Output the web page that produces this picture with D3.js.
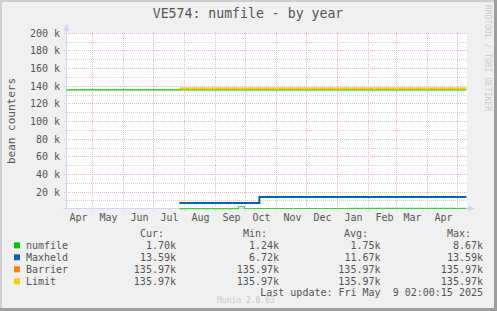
<!DOCTYPE html>
<html>
<head>
<meta charset="utf-8">
<script src="https://cdn.jsdelivr.net/npm/d3@7"></script>
<style>
  html, body { margin: 0; padding: 0; background: #f0f0f0; }
  svg { display: block; }
  text { font-family: "DejaVu Sans Mono", monospace; white-space: pre; }
</style>
</head>
<body>
<script>
// ---------- data ----------
const title = "VE574: numfile - by year";
const yLabel = "bean counters";
const startTime = Date.UTC(2024, 3, 4, 2, 0);
const endTime = Date.UTC(2025, 4, 9, 2, 0);

const yTicks = [20000, 40000, 60000, 80000, 100000, 120000, 140000, 160000, 180000, 200000];
const yTickLabels = ["20 k", "40 k", "60 k", "80 k", "100 k", "120 k", "140 k", "160 k", "180 k", "200 k"];
const yMinorTicks = [10000, 30000, 50000, 70000, 90000, 110000, 130000, 150000, 170000, 190000];
const monthLabels = ["Apr", "May", "Jun", "Jul", "Aug", "Sep", "Oct", "Nov", "Dec", "Jan", "Feb", "Mar", "Apr"];

const seriesNames = ["numfile", "Maxheld", "Barrier", "Limit"];
const seriesColors = ["#00cc00", "#0066b3", "#ff8000", "#ffcc00"];

// step series: dates (ISO, UTC) and values
const numfileDates = ["2024-07-26", "2024-09-23", "2024-09-29", "2025-01-10", "2025-05-09T02:00"];
const numfileValues = [1300, 3600, 1500, 1700, 1700];
const maxheldDates = ["2024-07-26", "2024-10-14", "2025-05-09T02:00"];
const maxheldValues = [6720, 13590, 13590];
const barrierDates = ["2024-07-26", "2025-05-09T02:00"];
const barrierValues = [135970, 135970];
const limitDates = ["2024-07-26", "2025-05-09T02:00"];
const limitValues = [135970, 135970];
// horizontal rule drawn in the numfile colour across the full range
const hruleValue = 135970;

const legendCur = ["1.70k", "13.59k", "135.97k", "135.97k"];
const legendMin = ["1.24k", "6.72k", "135.97k", "135.97k"];
const legendAvg = ["1.75k", "11.67k", "135.97k", "135.97k"];
const legendMax = ["8.67k", "13.59k", "135.97k", "135.97k"];
const lastUpdate = "Last update: Fri May  9 02:00:15 2025";
const footer = "Munin 2.0.63";
const sideText = "RRDTOOL / TOBI OETIKER";

// ---------- drawing ----------
const W = 497, H = 311;
const svg = d3.select("body").append("svg").attr("width", W).attr("height", H);

svg.append("rect").attr("width", W).attr("height", H).attr("fill", "#f0f0f0");
// frame shading
svg.append("rect").attr("x", 0).attr("y", 0).attr("width", W).attr("height", 2).attr("fill", "#cfcfcf");
svg.append("rect").attr("x", 0).attr("y", 0).attr("width", 2).attr("height", H).attr("fill", "#cfcfcf");
svg.append("rect").attr("x", W - 3).attr("y", 0).attr("width", 3).attr("height", H).attr("fill", "#9e9e9e");
svg.append("rect").attr("x", 0).attr("y", H - 3).attr("width", W).attr("height", 3).attr("fill", "#9e9e9e");

const x = d3.scaleUtc().domain([startTime, endTime]).range([66.5, 466.5]);
const y = d3.scaleLinear().domain([0, 200000]).range([209.8, 33.3]);

const plotL = 67, plotR = 467, plotT = 33, plotB = 209;
svg.append("rect").attr("x", plotL).attr("y", plotT).attr("width", plotR - plotL).attr("height", plotB - plotT).attr("fill", "#ffffff");

const snap = v => Math.round(v) + 0.5;
const gridG = svg.append("g");

// minor horizontal grid
gridG.selectAll(".minor").data(yMinorTicks).enter().append("line")
  .attr("x1", plotL - 2).attr("x2", plotR)
  .attr("y1", d => snap(y(d) - 0.5)).attr("y2", d => snap(y(d) - 0.5))
  .attr("stroke", "#d2d2d2").attr("stroke-width", 1).attr("stroke-dasharray", "1,1");

// major horizontal grid
gridG.selectAll(".major").data(yTicks).enter().append("line")
  .attr("x1", plotL - 3).attr("x2", plotR)
  .attr("y1", d => snap(y(d) - 0.5)).attr("y2", d => snap(y(d) - 0.5))
  .attr("stroke", "#f6b4b4").attr("stroke-width", 1).attr("stroke-dasharray", "1,1");

// vertical month grid
const monthTicks = d3.utcMonth.range(new Date(startTime), new Date(endTime));
gridG.selectAll(".vgrid").data(monthTicks).enter().append("line")
  .attr("x1", d => snap(x(d) - 1)).attr("x2", d => snap(x(d) - 1))
  .attr("y1", plotT - 1).attr("y2", plotB + 3)
  .attr("stroke", "#f6b4b4").attr("stroke-width", 1).attr("stroke-dasharray", "1,1");

// axes
const axisColor = "#cfd6f8";
svg.append("line").attr("x1", 66.5).attr("x2", 66.5).attr("y1", 209).attr("y2", 29).attr("stroke", axisColor);
svg.append("path").attr("d", "M63.5,31 L66.5,24 L69.5,31 Z").attr("fill", axisColor);
svg.append("line").attr("x1", 63).attr("x2", 470).attr("y1", 208.5).attr("y2", 208.5).attr("stroke", axisColor);
svg.append("path").attr("d", "M468,205.5 L475,208.5 L468,211.5 Z").attr("fill", axisColor);

// y labels
const textColor = "#555555";
svg.selectAll(".ylab").data(yTicks).enter().append("text")
  .attr("x", 60).attr("y", d => y(d) + 3.5)
  .attr("text-anchor", "end").attr("font-size", 10).attr("fill", textColor)
  .text((d, i) => yTickLabels[i]);

// x labels (centred mid-month)
const labelDates = d3.utcMonth.range(new Date(Date.UTC(2024, 3, 1)), new Date(Date.UTC(2025, 4, 1)));
svg.selectAll(".xlab").data(labelDates).enter().append("text")
  .attr("x", d => x(d3.utcDay.offset(d, 15)))
  .attr("y", 221).attr("text-anchor", "middle").attr("font-size", 10).attr("fill", textColor)
  .text((d, i) => monthLabels[i]);

// series
const mk = (dates, values) => dates.map((d, i) => ({ t: new Date(d.length > 10 ? d + "Z" : d + "T00:00Z"), v: values[i] }));
const line = d3.line().x(d => x(d.t)).y(d => y(d.v)).curve(d3.curveStepAfter);

// hrule
svg.append("line").attr("x1", x(startTime)).attr("x2", x(endTime))
  .attr("y1", y(hruleValue)).attr("y2", y(hruleValue))
  .attr("stroke", seriesColors[0]).attr("stroke-width", 1.3);

svg.append("path").datum(mk(numfileDates, numfileValues)).attr("d", line)
  .attr("fill", "none").attr("stroke", seriesColors[0]).attr("stroke-width", 1.2).attr("opacity", 0.7);
svg.append("path").datum(mk(maxheldDates, maxheldValues)).attr("d", line)
  .attr("fill", "none").attr("stroke", seriesColors[1]).attr("stroke-width", 2).attr("transform", "translate(0,-0.8)");
svg.append("path").datum(mk(barrierDates, barrierValues)).attr("d", line)
  .attr("fill", "none").attr("stroke", seriesColors[2]).attr("stroke-width", 1).attr("opacity", 0.6).attr("transform", "translate(0,-1.9)");
svg.append("path").datum(mk(limitDates, limitValues)).attr("d", line)
  .attr("fill", "none").attr("stroke", seriesColors[3]).attr("stroke-width", 1.6).attr("transform", "translate(0,-1.0)");

// title
svg.append("text").attr("x", 248).attr("y", 18).attr("text-anchor", "middle")
  .attr("font-size", 13.2).attr("fill", textColor).text(title);

// y axis title
svg.append("text").attr("transform", "translate(15,121) rotate(-90)")
  .attr("text-anchor", "middle").attr("font-size", 11).attr("fill", textColor).text(yLabel);

// side text
svg.append("text").attr("transform", "translate(484.5,5) rotate(90)")
  .attr("text-anchor", "start").attr("font-size", 8).attr("fill", "#cccccc").text(sideText);

// legend
const hdrY = 237;
svg.append("text").attr("x", 140).attr("y", hdrY).attr("font-size", 10).attr("fill", textColor).text("Cur:");
svg.append("text").attr("x", 243).attr("y", hdrY).attr("font-size", 10).attr("fill", textColor).text("Min:");
svg.append("text").attr("x", 344).attr("y", hdrY).attr("font-size", 10).attr("fill", textColor).text("Avg:");
svg.append("text").attr("x", 447).attr("y", hdrY).attr("font-size", 10).attr("fill", textColor).text("Max:");

const rows = svg.selectAll(".leg").data(seriesNames).enter().append("g")
  .attr("transform", (d, i) => `translate(0,${245.3 + i * 12})`);
rows.append("rect").attr("x", 14).attr("y", -3).attr("width", 6).attr("height", 6)
  .attr("fill", (d, i) => seriesColors[i]);
rows.append("text").attr("x", 26).attr("y", 3.5).attr("font-size", 10).attr("fill", textColor).text(d => d);
const cols = [[legendCur, 176], [legendMin, 279], [legendAvg, 380.5], [legendMax, 483]];
cols.forEach(([arr, cx]) => {
  rows.append("text").attr("x", cx).attr("y", 3.5).attr("text-anchor", "end")
    .attr("font-size", 10).attr("fill", textColor).text((d, i) => arr[i]);
});

svg.append("text").attr("x", 483).attr("y", 296).attr("text-anchor", "end")
  .attr("font-size", 10).attr("fill", textColor).text(lastUpdate);
svg.append("text").attr("x", 217).attr("y", 303).attr("font-size", 8)
  .attr("fill", "#c8c8c8").text(footer);
</script>
</body>
</html>
